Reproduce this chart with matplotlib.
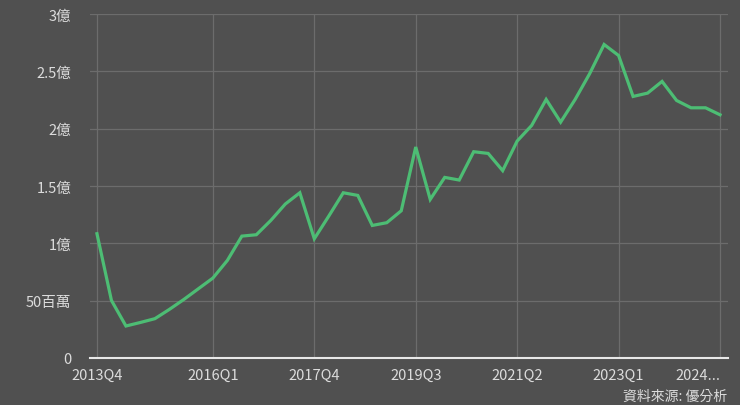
import matplotlib
matplotlib.use("Agg")
import matplotlib.pyplot as plt

plt.rcParams['font.family'] = ['Noto Sans CJK TC', 'DejaVu Sans']

# Quarterly values (億)
values = [1.084, 0.502, 0.279, 0.31, 0.343, 0.424, 0.511, 0.604, 0.697, 0.851,
          1.063, 1.075, 1.20, 1.343, 1.441, 1.04, 1.238, 1.441, 1.418, 1.156,
          1.18, 1.284, 1.84, 1.383, 1.575, 1.552, 1.799, 1.784, 1.634, 1.892,
          2.028, 2.255, 2.057, 2.255, 2.479, 2.734, 2.638, 2.281, 2.31, 2.412,
          2.246, 2.182, 2.182, 2.121]
x_tick_index = [0, 8, 15, 22, 29, 36, 43]
x_tick_labels = ["2013Q4", "2016Q1", "2017Q4", "2019Q3", "2021Q2", "2023Q1", "2024..."]
y_ticks = [0, 0.5, 1, 1.5, 2, 2.5, 3]
y_tick_labels = ["0", "50百萬", "1億", "1.5億", "2億", "2.5億", "3億"]
source = "資料來源: 優分析"

bg = '#505050'
fig = plt.figure(figsize=(7.4, 4.06), dpi=100, facecolor=bg)
ax = fig.add_axes([90/740, 1-359/406, (728-90)/740, (359-15)/406], facecolor=bg)

ax.plot(range(len(values)), values, color='#4dbd74', lw=2.3, solid_joinstyle='miter', zorder=3)

ax.set_xlim(-0.48, 43.55)
ax.set_ylim(0, 3)
ax.set_xticks(x_tick_index)
ax.set_xticklabels(x_tick_labels)
ax.set_yticks(y_ticks)
ax.set_yticklabels(y_tick_labels)
ax.grid(True, color='#6c6c6c', lw=0.9, zorder=1)
ax.tick_params(length=0, colors='#dcdcdc', labelsize=10.5)
ax.tick_params(axis='y', pad=13.5)
ax.tick_params(axis='x', pad=7)
xl = ax.get_xticklabels()
xl[-1].set_horizontalalignment('right')
xl[-1].set_x(43)
for s in ['top', 'right', 'left']:
    ax.spines[s].set_visible(False)
ax.spines['bottom'].set_color('#e8e8e8')
ax.spines['bottom'].set_linewidth(1.5)
ax.spines['bottom'].set_zorder(4)

fig.text(727/740, 1-397/406, source, ha='right', va='center', color='#dcdcdc', fontsize=10)

fig.savefig('out.png', dpi=100, facecolor=bg)
